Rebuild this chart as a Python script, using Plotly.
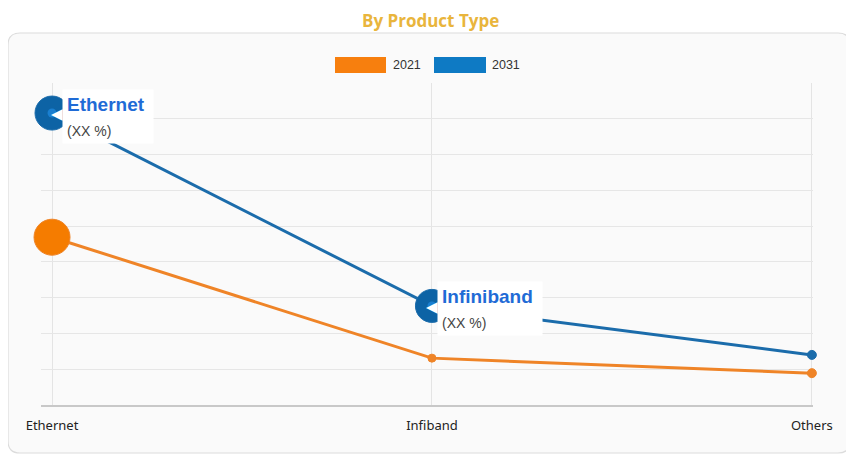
"""Product type share chart: 2021 vs 2031."""

import plotly.graph_objects as go

categories = ["Ethernet", "Infiband", "Others"]
share_2021 = [4.69, 1.31, 0.89]
share_2031 = [8.16, 2.77, 1.40]
callouts = ["Ethernet", "Infiniband"]
callout_text = "(XX %)"
years = ["2021", "2031"]

ORANGE = "#ef8427"
BLUE = "#1b6cab"
ICON_BLUE = "#0d63a5"
CARD = "#fafafa"

# page body adds an 8px offset, so the figure is drawn 8px in from the window edge
OFF = 8
W, H = 854 - OFF, 458 - OFF
# target plot area in window pixels: x 41..813, y 83..405
L, R, T, B = 41 - OFF, 854 - 813, 83 - OFF, 458 - 405
PW, PH = W - L - R, H - T - B


def px(x):
    return (x - OFF - L) / PW


def py(y):
    return (T + PH - (y - OFF)) / PH


def rounded_rect(x0, y0, x1, y1, r):
    pts = [
        f"M {px(x0 + r)} {py(y0)}",
        f"L {px(x1 - r)} {py(y0)}",
        f"Q {px(x1)} {py(y0)} {px(x1)} {py(y0 + r)}",
        f"L {px(x1)} {py(y1 - r)}",
        f"Q {px(x1)} {py(y1)} {px(x1 - r)} {py(y1)}",
        f"L {px(x0 + r)} {py(y1)}",
        f"Q {px(x0)} {py(y1)} {px(x0)} {py(y1 - r)}",
        f"L {px(x0)} {py(y0 + r)}",
        f"Q {px(x0)} {py(y0)} {px(x0 + r)} {py(y0)}",
        "Z",
    ]
    return " ".join(pts)


xs = list(range(len(categories)))

fig = go.Figure()
fig.add_trace(
    go.Scatter(
        x=xs, y=share_2021, mode="lines+markers", name=years[0],
        line=dict(color=ORANGE, width=3), cliponaxis=False,
        marker=dict(color=["#f57c00", ORANGE, ORANGE], size=[36, 8, 9], opacity=1),
        showlegend=False,
    )
)
fig.add_trace(
    go.Scatter(
        x=xs, y=share_2031, mode="lines+markers", name=years[1],
        line=dict(color=BLUE, width=3), cliponaxis=False,
        marker=dict(color=[ICON_BLUE, ICON_BLUE, BLUE], size=[34, 33, 9], opacity=1),
        showlegend=False,
    )
)
# lighter centre of the pie icons
fig.add_trace(
    go.Scatter(
        x=xs[:2], y=share_2031[:2], mode="markers", cliponaxis=False,
        marker=dict(color="#1a7fd0", size=9, opacity=1), showlegend=False, hoverinfo="skip",
    )
)

shapes = [
    dict(type="path", xref="paper", yref="paper", path=rounded_rect(8, 33, 850, 453, 12),
         fillcolor=CARD, line=dict(color="#dcdcdc", width=1.2), layer="below"),
    dict(type="rect", xref="paper", yref="paper", x0=px(335), x1=px(386), y0=py(57), y1=py(73),
         fillcolor="#f77f0e", line_width=0),
    dict(type="rect", xref="paper", yref="paper", x0=px(434), x1=px(486), y0=py(57), y1=py(73),
         fillcolor="#0e7ac4", line_width=0),
]

annotations = [
    dict(text="<b>By Product Type</b>", xref="paper", yref="paper", x=px(430), y=py(8),
         xanchor="center", yanchor="top", showarrow=False, borderpad=0,
         font=dict(family="Open Sans", size=17, color="#e9b53c")),
    dict(text=years[0], xref="paper", yref="paper", x=px(391), y=py(65.5), xanchor="left",
         yanchor="middle", showarrow=False,
         font=dict(family="Liberation Sans", size=12.5, color="#333")),
    dict(text=years[1], xref="paper", yref="paper", x=px(490), y=py(65.5), xanchor="left",
         yanchor="middle", showarrow=False,
         font=dict(family="Liberation Sans", size=12.5, color="#333")),
]

for i, (name, shift) in enumerate(zip(callouts, [10, 5])):
    annotations.append(dict(
        x=xs[i], y=share_2031[i], xref="x", yref="y", text="◀", showarrow=False,
        xanchor="left", yanchor="middle", xshift=shift - 13, font=dict(size=15, color="white"),
    ))
    annotations.append(dict(
        x=xs[i], y=share_2031[i], xref="x", yref="y", xanchor="left", yanchor="middle",
        xshift=shift, yshift=-3, align="left", showarrow=False,
        bgcolor="white", borderpad=4,
        text=(f"<b>{name}</b> <br><span style='font-size:14px;color:#444'>"
              f"{callout_text}</span>"),
        font=dict(family="Liberation Sans", size=19, color="#1f6bd6"),
    ))

fig.update_layout(
    width=W, height=H,
    margin=dict(l=L, r=R, t=T, b=B),
    paper_bgcolor="white",
    plot_bgcolor=CARD,
    shapes=shapes,
    annotations=annotations,
    showlegend=False,
)
fig.update_xaxes(
    range=[-0.029, 2.003], tickvals=xs, ticktext=categories,
    showgrid=True, gridcolor="#e4e4e4", gridwidth=1,
    showline=True, linecolor="#c8c8c8", linewidth=2,
    zeroline=False, ticks="", ticklabelstandoff=7,
    tickfont=dict(family="Noto Sans", size=13, color="#222"),
)
fig.update_yaxes(
    range=[0, 9], dtick=1, showticklabels=False,
    showgrid=True, gridcolor="#e6e6e6", zeroline=False,
)

fig.write_html("out.html")
